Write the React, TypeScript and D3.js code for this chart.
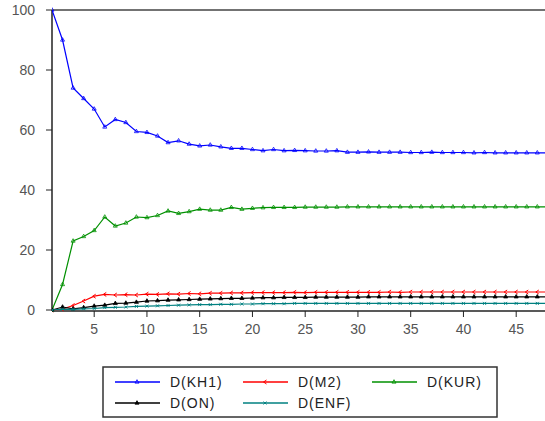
import React from "react";
import * as d3 from "d3";

// variance decomposition, periods 1..50
const periods = d3.range(1, 51);

const kh1 = [100, 90, 74, 70.5, 67, 61, 63.5, 62.5, 59.5, 59.2, 58, 55.8, 56.4, 55.3, 54.7, 55, 54.4, 53.9, 53.9, 53.5,
  53.1, 53.5, 53.1, 53.2, 53.1, 53.0, 53.0, 53.1, 52.6, 52.6, 52.7, 52.6, 52.6, 52.6, 52.5, 52.5, 52.6, 52.5, 52.5, 52.5,
  52.4, 52.5, 52.4, 52.4, 52.4, 52.4, 52.4, 52.4, 52.4, 52.4];
const m2 = [0, 0.3, 1.5, 3, 4.6, 5.2, 5.0, 5.1, 5.0, 5.3, 5.2, 5.4, 5.3, 5.5, 5.4, 5.6, 5.6, 5.7, 5.7, 5.8,
  5.8, 5.8, 5.8, 5.9, 5.8, 5.9, 5.9, 5.9, 5.9, 5.9, 5.9, 5.9, 6.0, 5.9, 6.0, 6.0, 6.0, 6.0, 6.0, 6.0,
  6.0, 6.0, 6.0, 6.0, 6.0, 6.0, 6.0, 6.0, 6.0, 6.0];
const kur = [0, 8.5, 23, 24.5, 26.5, 31, 28, 29, 31, 30.8, 31.5, 33, 32.2, 32.8, 33.6, 33.3, 33.3, 34.2, 33.6, 33.9,
  34.1, 34.2, 34.2, 34.2, 34.3, 34.3, 34.3, 34.3, 34.4, 34.4, 34.4, 34.4, 34.4, 34.4, 34.4, 34.4, 34.4, 34.4, 34.4, 34.4,
  34.4, 34.4, 34.4, 34.4, 34.4, 34.4, 34.4, 34.4, 34.4, 34.4];
const on = [0, 1.0, 0.4, 0.8, 1.3, 1.6, 2.2, 2.3, 2.6, 3.0, 3.1, 3.3, 3.4, 3.5, 3.6, 3.7, 3.8, 3.9, 3.9, 4.0,
  4.1, 4.1, 4.2, 4.2, 4.2, 4.3, 4.3, 4.3, 4.3, 4.3, 4.4, 4.4, 4.4, 4.4, 4.4, 4.4, 4.4, 4.4, 4.4, 4.4,
  4.4, 4.4, 4.4, 4.4, 4.4, 4.4, 4.4, 4.4, 4.4, 4.4];
const enf = [0, 0.3, 0.2, 0.4, 0.5, 0.8, 0.9, 1.0, 1.2, 1.3, 1.4, 1.5, 1.6, 1.7, 1.8, 1.8, 1.9, 1.9, 2.0, 2.0,
  2.1, 2.1, 2.1, 2.2, 2.2, 2.2, 2.2, 2.2, 2.2, 2.2, 2.2, 2.2, 2.2, 2.2, 2.2, 2.2, 2.2, 2.2, 2.2, 2.2,
  2.2, 2.2, 2.2, 2.2, 2.2, 2.2, 2.2, 2.2, 2.2, 2.2];

const yTicks = [0, 20, 40, 60, 80, 100];
const xTicks = [5, 10, 15, 20, 25, 30, 35, 40, 45];

const series = [
  { name: "D(KH1)", values: kh1, color: "#0000ff", marker: "tri" },
  { name: "D(M2)", values: m2, color: "#ff0000", marker: "arrow" },
  { name: "D(KUR)", values: kur, color: "#009000", marker: "tri" },
  { name: "D(ON)", values: on, color: "#000000", marker: "solid" },
  { name: "D(ENF)", values: enf, color: "#008080", marker: "cross" },
];

const width = 545, height = 421;
const left = 52, top = 10, bottom = 310;

const x = d3.scaleLinear().domain([1, 50]).range([left, left + 49 * 10.55]);
const y = d3.scaleLinear().domain([0, 100]).range([bottom, top]);

const line = d3.line<number>()
  .x((d, i) => x(periods[i]))
  .y((d) => y(d));

const Marker = ({ type, cx, cy, color }) => {
  if (type === "cross") {
    return <path d={`M${cx - 1.5},${cy - 1.5}L${cx + 1.5},${cy + 1.5}M${cx - 1.5},${cy + 1.5}L${cx + 1.5},${cy - 1.5}`} stroke={color} strokeWidth={0.9} />;
  }
  if (type === "arrow") {
    return <path d={`M${cx + 1.5},${cy - 2}L${cx - 1.5},${cy}L${cx + 1.5},${cy + 2}`} fill="none" stroke={color} strokeWidth={1} />;
  }
  const p = d3.symbol(d3.symbolTriangle, 7)();
  return <path d={p} transform={`translate(${cx},${cy})`} fill={type === "solid" ? color : "none"} stroke={color} strokeWidth={0.8} />;
};

export default function App() {
  const legendCols = [115, 243, 372];
  const legendRows = [382, 403];
  return (
    <svg width={width} height={height} style={{ position: "absolute", left: 0, top: 0, background: "white", fontFamily: "Liberation Sans, Arial, sans-serif" }}>
      <defs>
        <clipPath id="plot">
          <rect x={left} y={top - 5} width={width - left} height={bottom - top + 10} />
        </clipPath>
      </defs>
      {/* frame */}
      <line x1={left} x2={width} y1={top} y2={top} stroke="#444" strokeWidth={1.5} />
      <line x1={left} x2={left} y1={top} y2={bottom + 1} stroke="#222" strokeWidth={1.5} />
      <line x1={left} x2={width} y1={bottom + 1} y2={bottom + 1} stroke="#222" strokeWidth={1.5} />
      {yTicks.map((t) => (
        <g key={t}>
          <line x1={left - 6} x2={left} y1={y(t)} y2={y(t)} stroke="#222" strokeWidth={1} />
          <text x={left - 17} y={y(t)} dy="0.35em" textAnchor="end" fontSize={14} fill="#555">{t}</text>
        </g>
      ))}
      {xTicks.map((t) => (
        <g key={t}>
          <line x1={x(t)} x2={x(t)} y1={bottom + 1} y2={bottom + 7} stroke="#222" strokeWidth={1} />
          <text x={x(t)} y={bottom + 24} textAnchor="middle" fontSize={14} fill="#555">{t}</text>
        </g>
      ))}
      <g clipPath="url(#plot)">
        {series.map((s) => (
          <g key={s.name}>
            <path d={line(s.values)} fill="none" stroke={s.color} strokeWidth={1.2} />
            {s.values.map((v, i) => (
              <Marker key={i} type={s.marker} cx={x(periods[i])} cy={y(v)} color={s.color} />
            ))}
          </g>
        ))}
      </g>
      {/* legend */}
      <rect x={103} y={367} width={394} height={50} fill="white" stroke="#333" strokeWidth={1.5} />
      {series.map((s, i) => {
        const cx = legendCols[i % 3];
        const cy = legendRows[Math.floor(i / 3)];
        return (
          <g key={s.name}>
            <line x1={cx} x2={cx + 45} y1={cy} y2={cy} stroke={s.color} strokeWidth={1.3} />
            <Marker type={s.marker} cx={cx + 22} cy={cy} color={s.color} />
            <text x={cx + 55} y={cy} dy="0.35em" fontSize={14} letterSpacing={1} fill="#222">{s.name}</text>
          </g>
        );
      })}
    </svg>
  );
}
